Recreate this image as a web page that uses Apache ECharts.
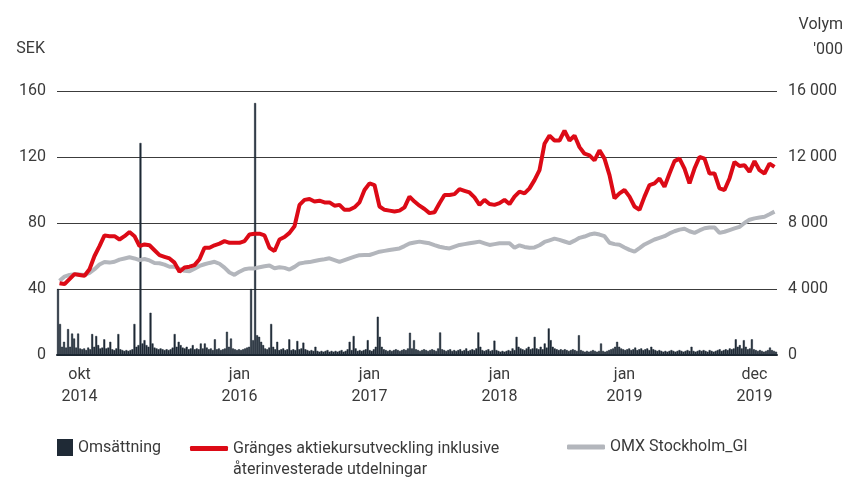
<!DOCTYPE html>
<html>
<head>
<meta charset="utf-8">
<script src="https://cdn.jsdelivr.net/npm/echarts@6/dist/echarts.min.js"></script>
<style>
  html, body { margin: 0; padding: 0; background: #fff; }
  #main { width: 847px; height: 480px; }
</style>
</head>
<body>
<div id="main"></div>
<script>
// x axis tick labels and the point (of the price series) they sit under
var tickLabels = ['okt\n2014', 'jan\n2016', 'jan\n2017', 'jan\n2018', 'jan\n2019', 'dec\n2019'];
var tickPoints = [4, 36, 62, 88, 113, 139];

// Gränges incl. reinvested dividends, SEK (read roughly every 1.5 weeks)
var granges = [
  43.5, 43, 46, 49, 48.5, 48, 52, 60, 66, 72.5, 72, 72, 70, 72, 74.5, 72, 66, 67, 66.5, 63.5,
  60.5, 59.5, 58.5, 56, 50.5, 53, 53.5, 54.5, 58, 65, 65, 66.5, 67.5, 69, 68, 68, 68, 69, 73, 73.5,
  73.5, 72.5, 65, 63, 70, 71.5, 74, 78, 91, 94, 94.5, 93, 93.5, 92.5, 92.5, 90.5, 91, 88, 88, 89.5,
  92.5, 100, 104, 103, 90, 88, 87.5, 87, 87.5, 89.5, 96, 93, 90.5, 88.5, 86, 86.5, 92, 97, 97, 97.5,
  100.5, 99.5, 98.5, 95.5, 91, 94, 91.5, 91, 92, 94, 91.5, 96, 99, 98, 101, 106, 112, 128, 133, 130,
  130, 136, 130, 133, 126, 122, 121, 118, 124, 119, 109, 95, 98, 100, 96, 90, 88, 96, 103, 104,
  107, 102, 110, 117.5, 119, 113, 104, 113, 120, 119, 110, 110, 101, 100, 107, 117, 114.5, 115, 111, 117.5,
  112, 110, 116, 114
];

// OMX Stockholm_GI, rebased to SEK scale
var omx = [
  45, 47.5, 48.5, 49, 48.8, 48.5, 49.8, 52, 54.8, 56.4, 56, 56.5, 57.8, 58.5, 59.2, 58.5, 57.5, 58.2, 57.3, 55.8,
  55.6, 54.8, 53.5, 53.5, 52.2, 51, 50.7, 52.3, 54, 55, 55.8, 56.5, 55.3, 53, 50, 48.6, 50.5, 52, 52.5, 52.5,
  53.2, 53.8, 54.3, 52.6, 53.2, 52.8, 51.8, 53.4, 55.5, 56, 56.3, 57, 57.6, 58, 58.6, 57.5, 56.4, 57.5, 58.6, 59.6,
  60.5, 60.6, 60.6, 61.6, 62.6, 63.1, 63.6, 64.1, 64.6, 66, 67.6, 68.2, 68.7, 68.2, 67.7, 66.6, 65.6, 65, 64.6, 65.7,
  66.7, 67.2, 67.7, 68.2, 68.7, 67.7, 66.7, 67.2, 67.7, 67.7, 67.7, 65, 66.5, 65.5, 65, 65.2, 66.5, 68.5, 69.5, 70.5,
  69.8, 68.8, 67.8, 69.3, 71, 71.8, 73, 73.6, 73, 72, 68, 67.2, 66.8, 65.2, 63.7, 62.7, 64.8, 67, 68.5, 70,
  71, 72, 73.7, 75, 76, 76.5, 75, 74, 75.5, 76.8, 77.3, 77.3, 74, 74.7, 75.7, 76.7, 77.7, 80, 82, 82.8,
  83.3, 83.8, 85.3, 86.9
];

// Omsättning (turnover), thousands of shares (read about every 3 trading days)
var volume = [
  4000, 1880, 500, 800, 450, 1570, 500, 1300, 1000, 450, 1300, 400, 350, 400, 300, 450, 350, 1270, 500, 1150,
  600, 400, 450, 950, 400, 450, 800, 350, 300, 400, 1270, 350, 300, 250, 300, 250, 300, 350, 1880, 500,
  600, 12850, 700, 900, 600, 500, 2560, 700, 450, 400, 350, 400, 350, 300, 350, 300, 350, 450, 1270, 500,
  800, 600, 450, 400, 500, 350, 400, 600, 350, 400, 350, 700, 400, 700, 450, 350, 400, 300, 950, 350,
  400, 300, 350, 400, 1410, 500, 1000, 400, 350, 300, 350, 300, 350, 400, 450, 500, 4000, 900, 15270, 1200,
  1100, 800, 600, 400, 350, 450, 1880, 500, 350, 800, 300, 350, 400, 300, 350, 950, 300, 350, 300, 850,
  350, 400, 750, 350, 300, 250, 300, 250, 500, 250, 200, 250, 200, 250, 300, 200, 250, 200, 250, 200,
  250, 300, 200, 250, 350, 800, 300, 1150, 400, 250, 300, 250, 300, 350, 900, 300, 250, 350, 500, 2320,
  1100, 500, 350, 300, 250, 300, 250, 300, 350, 300, 250, 300, 350, 300, 400, 1350, 400, 900, 350, 300,
  250, 300, 350, 300, 250, 300, 350, 300, 250, 400, 1370, 350, 300, 250, 300, 350, 250, 300, 250, 300,
  350, 250, 300, 400, 250, 300, 350, 300, 400, 1370, 500, 300, 250, 300, 350, 250, 300, 870, 300, 250,
  200, 250, 200, 250, 300, 250, 400, 300, 1100, 500, 400, 350, 300, 400, 500, 350, 400, 1100, 400, 350,
  500, 350, 700, 450, 1610, 900, 500, 400, 350, 300, 350, 300, 350, 300, 250, 300, 350, 300, 250, 1200,
  300, 250, 200, 250, 200, 250, 300, 250, 200, 250, 700, 250, 200, 250, 300, 350, 400, 500, 800, 500,
  400, 350, 300, 350, 400, 300, 350, 450, 300, 350, 400, 300, 350, 400, 300, 500, 350, 300, 250, 300,
  250, 200, 250, 200, 250, 300, 250, 200, 250, 300, 250, 200, 250, 300, 250, 500, 250, 200, 250, 300,
  250, 300, 250, 200, 300, 250, 200, 250, 300, 350, 250, 300, 350, 300, 400, 350, 400, 950, 500, 600,
  400, 900, 500, 350, 400, 950, 350, 300, 250, 300, 250, 200, 250, 300, 450, 300, 250, 200
];

var redName = 'Gränges aktiekursutveckling inklusive återinvesterade utdelningar';
var categories = granges.map(function () { return ''; });
tickPoints.forEach(function (p, k) { categories[p] = tickLabels[k]; });
var volCategories = volume.map(function (v, k) { return 'v' + k; });

var font = 'Roboto, sans-serif';
var textColor = '#3a3a3a';
var volColor = '#1f2a36';

var myChart = echarts.init(document.getElementById('main'));

var option = {
  animation: false,
  textStyle: { fontFamily: font },
  grid: { left: 57, right: 70, top: 91, bottom: 125 },
  graphic: [
    {
      type: 'text', x: 843, y: 12,
      style: { text: "Volym\n'000", align: 'right', verticalAlign: 'top', fill: textColor, font: '16px ' + font, lineHeight: 25 }
    }
  ],
  legend: [
    {
      left: 57, top: 439, padding: 0, icon: 'rect', itemWidth: 16, itemHeight: 17, itemGap: 0, textGap: 6,
      itemStyle: { color: volColor, borderWidth: 0 },
      textStyle: { color: textColor, fontSize: 16, fontFamily: font },
      data: ['Omsättning']
    },
    {
      left: 190, top: 417, padding: 0, icon: 'roundRect', itemWidth: 38, itemHeight: 5, textGap: 9,
      formatter: function () { return ' \nGränges aktiekursutveckling inklusive\nåterinvesterade utdelningar'; },
      textStyle: { color: textColor, fontSize: 16, fontFamily: font, lineHeight: 21 },
      data: [redName]
    },
    {
      left: 567, top: 439, padding: 0, icon: 'roundRect', itemWidth: 38, itemHeight: 5, textGap: 7,
      textStyle: { color: textColor, fontSize: 16, fontFamily: font },
      data: ['OMX Stockholm_GI']
    }
  ],
  xAxis: [
    {
      type: 'category',
      data: categories,
      boundaryGap: true,
      axisLine: { lineStyle: { color: '#1d2730', width: 2 } },
      axisTick: { show: false },
      axisLabel: {
        interval: function (idx, val) { return val !== ''; },
        color: textColor, fontSize: 16, lineHeight: 22, margin: 9, fontFamily: font
      },
      splitLine: { show: false }
    },
    {
      type: 'category',
      data: volCategories,
      boundaryGap: true,
      show: false
    }
  ],
  yAxis: [
    {
      type: 'value', min: 0, max: 160, interval: 40,
      name: 'SEK', nameLocation: 'end', nameGap: 34,
      nameTextStyle: { color: textColor, fontSize: 16, align: 'right', padding: [0, 12, 0, 0], fontFamily: font },
      axisLine: { show: false },
      axisTick: { show: false },
      axisLabel: { color: textColor, fontSize: 16, margin: 11, fontFamily: font },
      splitLine: { lineStyle: { color: '#3c3c3c', width: 1 } }
    },
    {
      type: 'value', min: 0, max: 16000, interval: 4000,
      axisLine: { show: false },
      axisTick: { show: false },
      axisLabel: {
        color: textColor, fontSize: 16, margin: 11, fontFamily: font,
        formatter: function (v) { return String(v).replace(/\B(?=(\d{3})+(?!\d))/g, ' '); }
      },
      splitLine: { show: false }
    }
  ],
  series: [
    {
      name: 'Omsättning',
      type: 'bar',
      xAxisIndex: 1,
      yAxisIndex: 1,
      barCategoryGap: '0%',
      itemStyle: { color: volColor, borderColor: volColor, borderWidth: 0.5 },
      data: volume,
      z: 1
    },
    {
      name: 'OMX Stockholm_GI',
      type: 'line',
      xAxisIndex: 0,
      yAxisIndex: 0,
      showSymbol: false,
      symbol: 'none',
      lineStyle: { color: '#b3b6bc', width: 4 },
      itemStyle: { color: '#b3b6bc' },
      data: omx,
      z: 2
    },
    {
      name: redName,
      type: 'line',
      xAxisIndex: 0,
      yAxisIndex: 0,
      showSymbol: false,
      symbol: 'none',
      lineStyle: { color: '#dc0a16', width: 4 },
      itemStyle: { color: '#dc0a16' },
      data: granges,
      z: 3
    }
  ]
};

myChart.setOption(option);
</script>
</body>
</html>
